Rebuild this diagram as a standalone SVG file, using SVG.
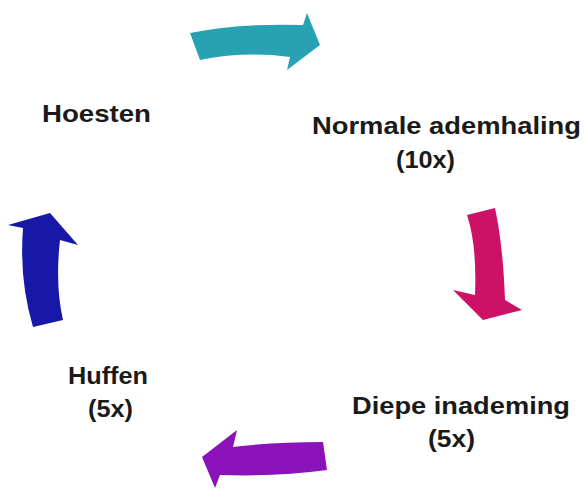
<svg xmlns="http://www.w3.org/2000/svg" width="588" height="491" viewBox="0 0 588 491">
<style>
.lbl{font-family:"Liberation Sans",Arial,sans-serif;font-weight:bold;font-size:24px;fill:#1a1a1a}
</style>
<rect width="588" height="491" fill="#ffffff"/>
<g id="connectors">
<path id="arrow-teal" d="M190,33 Q240,23 303,25 L307,13 L320,45 L287,70 L290,57 Q245,51 200,60 Z" fill="#28a2b2"/>
<path id="arrow-pink" d="M467,215 L495,208 Q503,245 505,300 L522,310 L483,320 L453,290 L475,295 Q477,245 467,215 Z" fill="#cc1166"/>
<path id="arrow-purple" d="M323,442 Q275,442 233,447 L237,430 L202,457 L215,488 L220,475 Q275,477 327,470 Z" fill="#8a12b8"/>
<path id="arrow-blue" d="M50,213 L78,245 L60,240 Q55,285 63,320 L33,327 Q19,280 23,228 L8,225 Z" fill="#1717a8"/>
</g>
<g id="node-hoesten"><text class="lbl" x="42" y="122" textLength="109" lengthAdjust="spacingAndGlyphs">Hoesten</text></g>
<g id="node-normale"><text class="lbl" x="312" y="134" textLength="269" lengthAdjust="spacingAndGlyphs">Normale ademhaling</text><text class="lbl" x="396" y="168" textLength="59" lengthAdjust="spacingAndGlyphs">(10x)</text></g>
<g id="node-diepe"><text class="lbl" x="352" y="414" textLength="218" lengthAdjust="spacingAndGlyphs">Diepe inademing</text><text class="lbl" x="428" y="447" textLength="47" lengthAdjust="spacingAndGlyphs">(5x)</text></g>
<g id="node-huffen"><text class="lbl" x="68" y="384" textLength="80" lengthAdjust="spacingAndGlyphs">Huffen</text><text class="lbl" x="88" y="417" textLength="45" lengthAdjust="spacingAndGlyphs">(5x)</text></g>
</svg>
